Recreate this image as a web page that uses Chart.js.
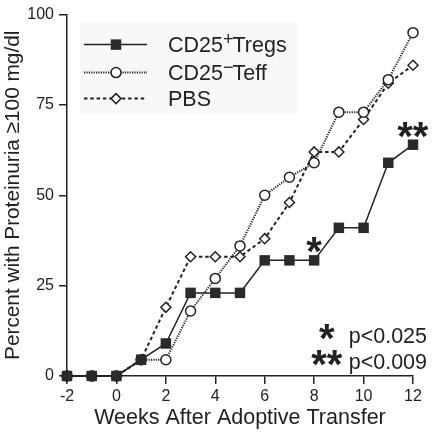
<!DOCTYPE html>
<html><head><meta charset="utf-8">
<script src="https://cdn.jsdelivr.net/npm/chart.js@4.4.1/dist/chart.umd.min.js"></script>
<style>html,body{margin:0;padding:0;background:#fff}#wrap{width:432px;height:435px;position:relative}</style>
</head><body><div id="wrap"><canvas id="c" width="432" height="435"></canvas></div>
<script>
// ---- data ----
const weeks = [-2,-1,0,1,2,3,4,5,6,7,8,9,10,11,12];
const tregs = [0,0,0,4.5,9,23,23,23,32,32,32,41,41,59,64];
const teff  = [0,0,0,4.5,4.5,18,27,36,50,55,59,73,73,82,95];
const pbs   = [0,0,0,4.5,19,33,33,33,38,48,62,62,71,81,86];
const seriesLabels = ['CD25⁺Tregs','CD25⁻Teff','PBS'];
const xTicks = [-2,0,2,4,6,8,10,12];
const yTicks = [0,25,50,75,100];
const xTitle = 'Weeks After Adoptive Transfer';
const yTitle = 'Percent with Proteinuria ≥100 mg/dl';
const sigWeeks = [8,12];
const sigMarks = ['*','**'];
const pMarks = ['*','**'];
const pTexts = ['p<0.025','p<0.009'];

const INK = '#222';
const FONT = "'Liberation Sans', Arial, Helvetica, sans-serif";

function pts(vals){ return weeks.map((w,i)=>({x:w,y:vals[i]})); }

function drawInkCentered(ctx, text, cx, cy){
  ctx.textAlign = 'left'; ctx.textBaseline = 'alphabetic';
  const m = ctx.measureText(text);
  const h = m.actualBoundingBoxAscent + m.actualBoundingBoxDescent;
  ctx.fillText(text, cx - (m.actualBoundingBoxRight - m.actualBoundingBoxLeft)/2, cy + h/2 - m.actualBoundingBoxDescent);
}

function drawSupLabel(ctx, text, x, yBase){
  const parts = text.split(/([⁺⁻])/);
  let cx = x;
  ctx.textAlign = 'left'; ctx.textBaseline = 'alphabetic';
  for (const p of parts){
    if (!p) continue;
    if (p === '⁺' || p === '⁻'){
      ctx.font = '18px ' + FONT;
      const s = p === '⁺' ? '+' : '−';
      ctx.fillText(s, cx, yBase - 7);
      cx += ctx.measureText(s).width - 1;
    } else {
      ctx.font = '21.5px ' + FONT;
      ctx.fillText(p, cx, yBase);
      cx += ctx.measureText(p).width;
    }
  }
}

const extras = {
  id: 'extras',
  beforeDatasetsDraw(chart){
    const ctx = chart.ctx; const a = chart.chartArea;
    ctx.save();
    ctx.fillStyle = '#f8f8f8';
    ctx.fillRect(a.left + 13, a.top + 8, 217, 91);
    ctx.restore();
  },
  afterDatasetsDraw(chart){
    const ctx = chart.ctx; const a = chart.chartArea;
    ctx.save();
    ctx.fillStyle = INK;
    // significance stars above Tregs points
    const meta = chart.getDatasetMeta(0);
    ctx.font = 'bold 40px ' + FONT;
    sigWeeks.forEach((w,i)=>{
      const idx = weeks.indexOf(w);
      const el = meta.data[idx];
      drawInkCentered(ctx, sigMarks[i], el.x, el.y - 15);
    });
    // p-value notes
    const textRight = a.right + 14;
    const baselines = [a.bottom - 33, a.bottom - 7];
    pTexts.forEach((t,i)=>{
      ctx.font = '21.5px ' + FONT;
      ctx.textAlign = 'right'; ctx.textBaseline = 'alphabetic';
      ctx.fillText(t, textRight, baselines[i]);
      ctx.font = 'bold 40px ' + FONT;
      drawInkCentered(ctx, pMarks[i], 327, baselines[i] - 11);
    });
    // legend
    const ds = chart.data.datasets;
    const rowY = [a.top + 30, a.top + 58, a.top + 84];
    ds.forEach((d,i)=>{
      const y = rowY[i];
      ctx.save();
      ctx.strokeStyle = d.borderColor; ctx.lineWidth = d.borderWidth;
      ctx.setLineDash(d.borderDash || []);
      ctx.beginPath(); ctx.moveTo(84, y); ctx.lineTo(147, y); ctx.stroke();
      ctx.setLineDash([]);
      ctx.fillStyle = d.pointBackgroundColor; ctx.strokeStyle = d.pointBorderColor;
      ctx.lineWidth = d.pointBorderWidth;
      Chart.helpers.drawPoint(ctx, {pointStyle: d.pointStyle, radius: d.pointRadius, rotation: 0, borderWidth: d.pointBorderWidth}, 116, y);
      ctx.restore();
      ctx.fillStyle = INK;
      drawSupLabel(ctx, d.label, 168, y + 7);
    });
    ctx.restore();
  }
};

new Chart(document.getElementById('c'), {
  type: 'line',
  data: {
    datasets: [
      { label: seriesLabels[0], data: pts(tregs), borderColor: INK, borderWidth: 1.5,
        pointStyle: 'rect', pointRadius: 7.4, pointBackgroundColor: '#2a2a2a', pointBorderColor: '#2a2a2a', pointBorderWidth: 0, clip: false },
      { label: seriesLabels[1], data: pts(teff), borderColor: INK, borderWidth: 2, borderDash: [1.2,1.2],
        pointStyle: 'circle', pointRadius: 5, pointBackgroundColor: '#fff', pointBorderColor: INK, pointBorderWidth: 1.5, clip: false },
      { label: seriesLabels[2], data: pts(pbs), borderColor: INK, borderWidth: 2, borderDash: [3.5,2.8],
        pointStyle: 'rectRot', pointRadius: 5, pointBackgroundColor: '#fff', pointBorderColor: INK, pointBorderWidth: 1.5, clip: false }
    ]
  },
  options: {
    responsive: false, devicePixelRatio: 1, animation: false,
    layout: { padding: { top: 14, right: 19, left: 0, bottom: 0 } },
    plugins: { legend: { display: false }, tooltip: { enabled: false } },
    elements: { line: { tension: 0 } },
    scales: {
      x: {
        type: 'linear', min: -2, max: 12,
        afterBuildTicks: s => { s.ticks = xTicks.map(v => ({ value: v })); },
        afterFit: s => { s.height = 59; },
        grid: { drawOnChartArea: false, drawTicks: true, tickLength: 8, color: INK, lineWidth: 1.5 },
        border: { display: true, color: INK, width: 1.5 },
        ticks: { color: INK, font: { family: FONT, size: 16 }, padding: 3, maxRotation: 0 },
        title: { display: true, text: xTitle, color: INK, font: { family: FONT, size: 21.5 }, padding: { top: 0, bottom: 4 } }
      },
      y: {
        type: 'linear', min: 0, max: 100,
        afterBuildTicks: s => { s.ticks = yTicks.map(v => ({ value: v })); },
        afterFit: s => { s.width = 67; },
        grid: { drawOnChartArea: false, drawTicks: true, tickLength: 8, color: INK, lineWidth: 1.5 },
        border: { display: true, color: INK, width: 1.5 },
        ticks: { color: INK, font: { family: FONT, size: 16 }, padding: 5 },
        title: { display: true, text: yTitle, color: INK, font: { family: FONT, size: 20.8 }, padding: { top: 1, bottom: 0 } }
      }
    }
  },
  plugins: [extras]
});
</script></body></html>
